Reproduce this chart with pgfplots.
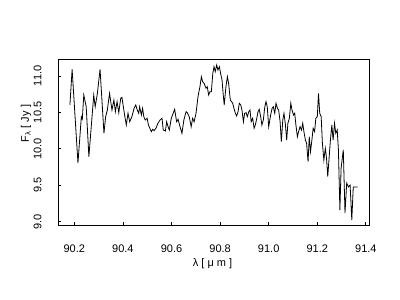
\documentclass[border=0pt]{standalone}
\usepackage{fontspec}
\setmainfont{Liberation Sans}
\usepackage{pgfplots}
\pgfplotsset{compat=1.18}
\begin{document}
\begin{tikzpicture}[font=\fontsize{11bp}{13bp}\selectfont]
\useasboundingbox (-58bp,-75bp) rectangle (342bp,225bp);
\begin{axis}[at={(0,0)}, anchor=south west, scale only axis,
  width=311bp, height=166bp,
  xmin=90.1329, xmax=91.4128, ymin=8.9533, ymax=11.2335,
  xtick={90.2,90.4,90.6,90.8,91.0,91.2,91.4},
  ytick={9,9.5,10,10.5,11},
  scaled ticks=false,
  axis lines=box,
  tick pos=left, tick align=inside, major tick length=3bp,
  every tick/.style={black, line width=0.8bp},
  axis line style={black, line width=0.8bp},
  tick label style={font=\fontsize{11bp}{13bp}\selectfont},
  label style={font=\fontsize{11bp}{13bp}\selectfont},
  x tick label style={/pgf/number format/.cd, fixed, fixed zerofill, precision=1, assume math mode=true, /tikz/.cd, anchor=north, inner sep=0pt, yshift=-20bp},
  y tick label style={/pgf/number format/.cd, fixed, fixed zerofill, precision=1, assume math mode=true, /tikz/.cd, xshift=-16.3bp, rotate=90, anchor=south, inner sep=0pt},
  xlabel={λ [ μ m ]},
  xlabel style={at={(axis description cs:0.497,-0.235)}, anchor=center, inner sep=0pt},
  ylabel={F\textsubscript{λ} [ Jy ]},
  ylabel style={at={(axis description cs:-0.103,0.611)}, anchor=center, inner sep=0pt},
]
\draw[black, line width=0.8bp] (rel axis cs:0,0) rectangle (rel axis cs:1,1);
\addplot[black, line width=0.8bp, mark=none] coordinates {
(90.182,10.602) (90.191,11.092) (90.215,9.805) (90.229,10.441) (90.233,10.409)
(90.239,10.739) (90.249,10.578) (90.260,9.892) (90.280,10.739) (90.286,10.578)
(90.295,10.762) (90.306,11.092) (90.322,10.213) (90.329,10.441) (90.336,10.533)
(90.345,10.762) (90.355,10.533) (90.363,10.670) (90.369,10.510) (90.376,10.647)
(90.383,10.496) (90.391,10.694) (90.396,10.707) (90.407,10.464) (90.414,10.327)
(90.421,10.488) (90.428,10.372) (90.437,10.441) (90.446,10.556) (90.453,10.602)
(90.459,10.533) (90.465,10.488) (90.469,10.578) (90.476,10.464) (90.481,10.556)
(90.486,10.441) (90.492,10.396) (90.500,10.419) (90.505,10.327) (90.517,10.235)
(90.523,10.268) (90.528,10.249) (90.536,10.282) (90.544,10.350) (90.553,10.396)
(90.561,10.419) (90.566,10.258) (90.575,10.245) (90.580,10.372) (90.586,10.304)
(90.591,10.258) (90.599,10.419) (90.607,10.488) (90.613,10.543) (90.621,10.372)
(90.627,10.405) (90.635,10.304) (90.643,10.213) (90.651,10.396) (90.660,10.510)
(90.665,10.496) (90.673,10.441) (90.681,10.304) (90.687,10.419) (90.693,10.372)
(90.701,10.488) (90.709,10.716) (90.717,10.853) (90.723,10.990) (90.728,10.922)
(90.734,10.900) (90.742,10.831) (90.747,10.853) (90.753,10.739) (90.758,10.784)
(90.764,10.784) (90.770,11.037) (90.775,11.128) (90.780,11.059) (90.786,11.151)
(90.791,11.082) (90.797,11.128) (90.802,11.037) (90.808,10.945) (90.813,10.739)
(90.817,10.602) (90.824,10.853) (90.830,10.990) (90.835,10.900) (90.842,10.670)
(90.852,10.625) (90.857,10.556) (90.863,10.488) (90.868,10.451) (90.874,10.510)
(90.879,10.625) (90.885,10.602) (90.890,10.533) (90.896,10.372) (90.901,10.488)
(90.907,10.496) (90.912,10.441) (90.918,10.510) (90.923,10.533) (90.928,10.372)
(90.934,10.419) (90.940,10.282) (90.945,10.327) (90.951,10.419) (90.956,10.510)
(90.961,10.543) (90.967,10.441) (90.972,10.327) (90.978,10.396) (90.984,10.578)
(90.989,10.647) (90.994,10.578) (91.000,10.304) (91.008,10.464) (91.014,10.556)
(91.019,10.578) (91.025,10.488) (91.030,10.625) (91.036,10.556) (91.041,10.533)
(91.047,10.372) (91.052,10.098) (91.058,10.396) (91.063,10.488) (91.069,10.327)
(91.074,10.121) (91.079,10.350) (91.085,10.419) (91.091,10.625) (91.096,10.533)
(91.102,10.464) (91.107,10.488) (91.112,10.327) (91.118,10.166) (91.123,10.235)
(91.129,10.304) (91.135,10.258) (91.140,10.350) (91.145,10.235) (91.151,10.121)
(91.156,10.076) (91.162,9.823) (91.167,10.166) (91.172,9.960) (91.177,10.098)
(91.183,10.282) (91.189,10.235) (91.194,10.419) (91.200,10.441) (91.205,10.762)
(91.210,10.488) (91.216,10.441) (91.221,10.076) (91.227,9.846) (91.233,10.007)
(91.238,9.870) (91.243,9.617) (91.249,9.892) (91.254,10.121) (91.260,10.327)
(91.265,10.121) (91.271,10.350) (91.276,10.213) (91.282,10.258) (91.287,9.984)
(91.293,9.159) (91.298,9.736) (91.307,9.984) (91.314,9.118) (91.321,9.530)
(91.328,9.475) (91.335,9.503) (91.342,9.022) (91.348,9.475) (91.366,9.475)
};
\end{axis}
\end{tikzpicture}
\end{document}
